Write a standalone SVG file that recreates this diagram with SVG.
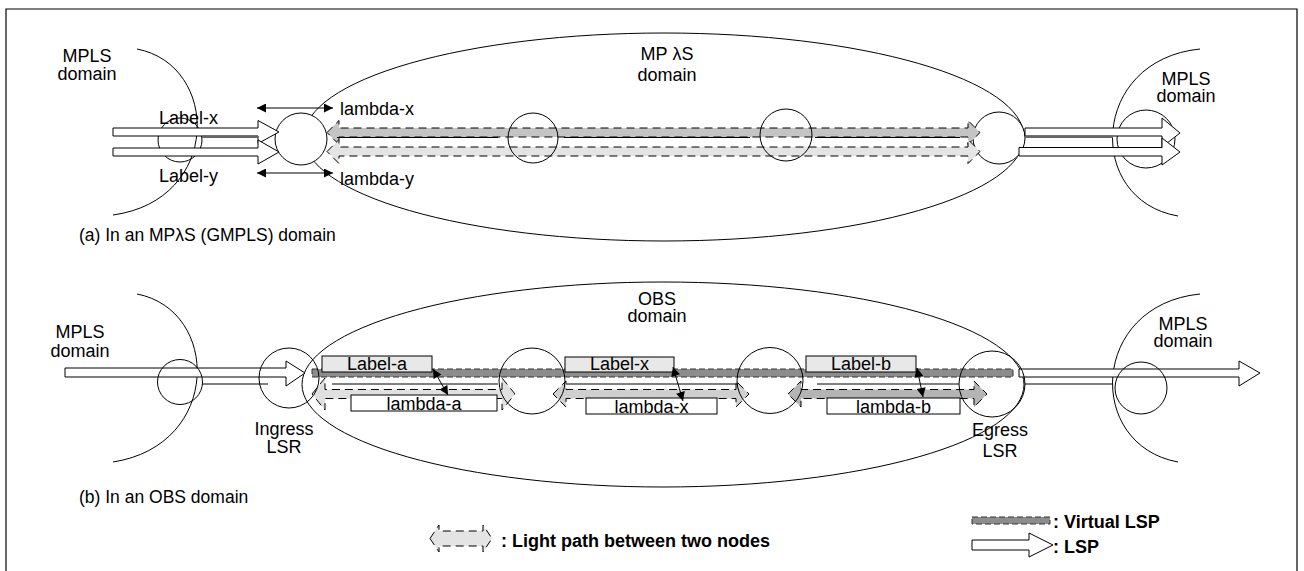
<svg xmlns="http://www.w3.org/2000/svg" width="1304" height="571" viewBox="0 0 1304 571">
<defs>
<style>
.ln{fill:none;stroke:#000;stroke-width:1}
.wt{fill:#fff;stroke:#000;stroke-width:1}
.t{font-family:"Liberation Sans",Arial,sans-serif;font-size:18px;fill:#000}
.m{text-anchor:middle}
.cap{font-size:17.5px}
.lg{font-family:"Liberation Sans",Arial,sans-serif;font-size:18px;font-weight:bold;fill:#000}
.lp{stroke:#000;stroke-width:1;stroke-dasharray:8 5}
.vl{fill:#8c8c8c;stroke:#333;stroke-width:1;stroke-dasharray:6 3}
.lbl{fill:#e8e8e8;stroke:#000;stroke-width:1}
.dbl{fill:none;stroke:#000;stroke-width:1;marker-start:url(#ah);marker-end:url(#ah)}
</style>
<marker id="ah" viewBox="0 0 10 10" refX="10" refY="5" markerWidth="10" markerHeight="9" markerUnits="userSpaceOnUse" orient="auto-start-reverse">
<path d="M0,0 L10,5 L0,10 Z" fill="#000"/>
</marker>
</defs>
<rect width="1304" height="571" fill="#fff"/>
<path d="M6,571 V9 H1297 V571" fill="none" stroke="#000" stroke-width="1.2"/>

<!-- (a) domains -->
<g id="a-mpls-left">
<path class="ln" d="M137,49 C220,65 222,200 113,215"/>
<text class="t m" x="87" y="62">MPLS</text>
<text class="t m" x="87" y="80">domain</text>
</g>
<g id="a-mplambdas-domain">
<ellipse class="ln" cx="664" cy="137" rx="360" ry="104"/>
<text class="t m" x="667" y="60"><tspan>MP</tspan><tspan dx="5">λS</tspan></text>
<text class="t m" x="667" y="81">domain</text>
</g>
<g id="a-mpls-right">
<path class="ln" d="M1200,49 C1090,60 1085,200 1178,216"/>
<text class="t m" x="1186" y="85">MPLS</text>
<text class="t m" x="1186" y="102">domain</text>
</g>

<!-- (a) nodes -->
<g id="a-node-left-lsr"><circle class="ln" cx="180" cy="140" r="22"/></g>
<g id="a-node-ingress"><circle class="wt" cx="301" cy="139" r="26"/></g>
<g id="a-node-egress"><circle class="wt" cx="999" cy="138" r="26"/></g>
<g id="a-node-right-lsr"><circle class="ln" cx="1146" cy="139" r="29"/></g>

<!-- (a) connectors -->
<g id="a-connectors">
<path class="wt" d="M113,128 H258 V120.5 L279,132 L258,143.5 V136 H113 Z"/>
<path class="wt" d="M113,148 H258 V140 L279,152 L258,164 V156 H113 Z"/>
<rect x="202" y="135.5" width="56" height="2.5" fill="#666"/>
<path class="wt" d="M1025,128 H1162 V118 L1180,133 L1162,147 V136 H1025 Z"/>
<path class="wt" d="M1019,147.5 H1162 V138 L1180,152 L1162,165 V156 H1019 Z"/>
<rect x="1025" y="135.5" width="88" height="2.5" fill="#666"/>
<path class="lp" fill="#c4c4c4" d="M327,132.5 L339,120.5 V128 H968 V120.5 L980,132.5 L968,144.5 V137 H339 V144.5 Z"/>
<path class="lp" fill="#e4e4e4" d="M327,151.5 L339,139.5 V147 H968 V139.5 L980,151.5 L968,163.5 V156 H339 V163.5 Z"/>
<path class="ln" d="M337,137.5 H498 M564,137.5 H750 M815,137.5 H960"/>
<line class="dbl" x1="257" y1="108" x2="333" y2="108"/>
<line class="dbl" x1="257" y1="173" x2="333" y2="173"/>
</g>
<g id="a-node-mid1"><circle class="ln" cx="533" cy="138" r="25"/></g>
<g id="a-node-mid2"><circle class="ln" cx="786" cy="135" r="26"/></g>

<g id="a-labels">
<text class="t" x="159" y="124">Label-x</text>
<text class="t" x="159" y="182">Label-y</text>
<text class="t" x="340" y="115">lambda-x</text>
<text class="t" x="340" y="185">lambda-y</text>
<text class="t cap" x="79" y="241">(a) In an MPλS (GMPLS) domain</text>
</g>

<!-- (b) domains -->
<g id="b-mpls-left">
<path class="ln" d="M137,294 C220,310 222,445 113,462"/>
<text class="t m" x="80" y="338">MPLS</text>
<text class="t m" x="80" y="357">domain</text>
</g>
<g id="b-obs-domain">
<ellipse class="ln" cx="663" cy="384.5" rx="361" ry="102.5"/>
<text class="t m" x="657" y="305">OBS</text>
<text class="t m" x="657" y="322">domain</text>
</g>
<g id="b-mpls-right">
<path class="ln" d="M1200,294 C1090,305 1085,445 1178,462"/>
<text class="t m" x="1183" y="330">MPLS</text>
<text class="t m" x="1183" y="347">domain</text>
</g>

<!-- (b) connectors -->
<g id="b-connectors">
<path class="wt" d="M65,368 H286 V361 L305,373 L286,386 V377 H65 Z"/>
<path class="ln" d="M202,384 H268"/>
<path class="wt" d="M1019,369 H1239 V361 L1260,373 L1239,386 V377 H1019 Z"/>
<path class="ln" d="M1025,384 H1113"/>
<rect class="vl" x="312" y="369" width="701" height="8"/>
<path class="lp" fill="#e0e0e0" d="M312,394 L325,378 V389.5 H502 V378 L515,394 L502,410 V398.5 H325 V410 Z"/>
<path class="lp" fill="#cfcfcf" d="M553,394 L566,381 V389.5 H736 V381 L749,394 L736,407 V398.5 H566 V407 Z"/>
<path class="lp" fill="#b4b4b4" d="M788,394 L801,381 V389.5 H974 V381 L987,394 L974,407 V398.5 H801 V407 Z"/>
<path class="ln" d="M332,384 H498 M566,384 H738 M817,384 H959"/>
</g>

<g id="b-node-left-lsr"><circle class="ln" cx="180" cy="382" r="22.5"/></g>
<g id="b-node-ingress">
<circle class="ln" cx="289" cy="378" r="30"/>
<text class="t m" x="284" y="435">Ingress</text>
<text class="t m" x="284" y="453">LSR</text>
</g>
<g id="b-node-mid1"><circle class="ln" cx="532" cy="381" r="33"/></g>
<g id="b-node-mid2"><circle class="ln" cx="770" cy="380.5" r="33"/></g>
<g id="b-node-egress">
<circle class="ln" cx="992" cy="384" r="33"/>
<text class="t m" x="1000" y="436">Egress</text>
<text class="t m" x="1000" y="457">LSR</text>
</g>
<g id="b-node-right-lsr"><circle class="ln" cx="1141" cy="388" r="26"/></g>

<g id="b-label-a">
<rect class="lbl" x="322" y="356" width="110" height="16"/>
<text class="t m" x="377" y="370">Label-a</text>
<rect class="wt" x="351" y="395" width="146" height="16"/>
<text class="t m" x="424" y="410">lambda-a</text>
<line class="dbl" x1="433" y1="369" x2="448" y2="395"/>
</g>
<g id="b-label-x">
<rect class="lbl" x="565" y="357" width="109" height="15"/>
<text class="t m" x="619.5" y="370">Label-x</text>
<rect class="wt" x="586" y="398" width="131" height="16"/>
<text class="t m" x="651.5" y="413">lambda-x</text>
<line class="dbl" x1="673" y1="367" x2="683" y2="401"/>
</g>
<g id="b-label-b">
<rect class="lbl" x="806" y="356" width="110" height="16"/>
<text class="t m" x="861" y="370">Label-b</text>
<rect class="wt" x="827" y="398" width="133" height="16"/>
<text class="t m" x="893.5" y="413">lambda-b</text>
<line class="dbl" x1="917" y1="368" x2="923" y2="397"/>
</g>
<text class="t cap" x="79" y="503">(b) In an OBS domain</text>

<!-- legend -->
<g id="legend">
<path class="lp" fill="#e4e4e4" d="M430,538.5 L439,525 V531 H483 V525 L492,538.5 L483,552 V546 H439 V552 Z"/>
<text class="lg" x="501" y="547">: Light path between two nodes</text>
<rect class="vl" x="972" y="517" width="78" height="7"/>
<text class="lg" x="1053" y="528">: Virtual LSP</text>
<path class="wt" d="M972,540 H1029 V533 L1053,545 L1029,557 V550 H972 Z"/>
<text class="lg" x="1053" y="553">: LSP</text>
</g>
</svg>
